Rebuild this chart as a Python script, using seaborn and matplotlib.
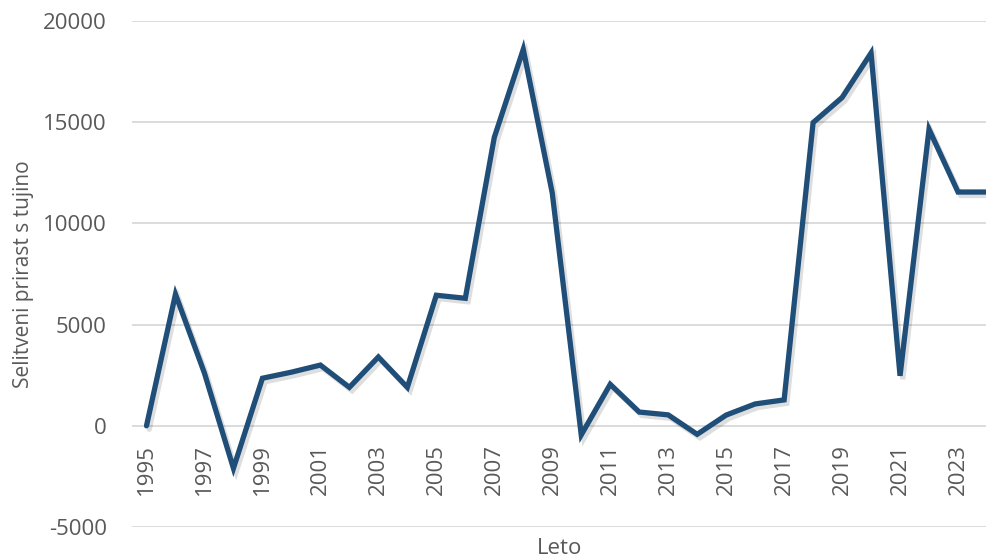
import matplotlib
matplotlib.use("Agg")
import matplotlib.pyplot as plt
import matplotlib.patheffects as pe
import pandas as pd
import seaborn as sns

# Selitveni prirast s tujino po letih
years = list(range(1995, 2025))
net_migration = [
    0, 6500, 2600, -2100, 2350, 2650, 3000, 1900, 3400, 1900,
    6450, 6300, 14250, 18600, 11500, -450, 2050, 680, 540, -420,
    530, 1080, 1280, 14980, 16220, 18420, 2470, 14650, 11550, 11550,
]
xticks = list(range(1995, 2024, 2))
yticks = [-5000, 0, 5000, 10000, 15000, 20000]

LINE = "#1F4E79"
TEXT = "#595959"
GRID = "#D9D9D9"

sns.set_theme(style="white")
plt.rcParams["font.family"] = ["Open Sans", "DejaVu Sans"]
plt.rcParams["axes.unicode_minus"] = False

df = pd.DataFrame({"Leto": years, "Prirast": net_migration})

fig = plt.figure(figsize=(9.87, 5.6), dpi=100)
ax = fig.add_axes([132 / 987, 1 - 527 / 560, 1 - 132 / 987, 506 / 560])

sns.lineplot(data=df, x="Leto", y="Prirast", ax=ax, color=LINE, linewidth=3.8,
             solid_joinstyle="miter", zorder=3)
ax.lines[0].set_path_effects([
    pe.SimpleLineShadow(offset=(2, -2.5), shadow_color="black", alpha=0.13),
    pe.Normal(),
])

ax.set_ylim(-5000, 20000)
ax.set_xlim(1994.5, 2024.0)
ax.set_yticks(yticks)
ax.set_xticks(xticks)
ax.set_xticklabels([str(y) for y in xticks])

ax.yaxis.grid(True, color=GRID, linewidth=1.3)
ax.set_axisbelow(True)
for s in ax.spines.values():
    s.set_visible(False)
ax.spines["bottom"].set_position(("data", 0))

ax.tick_params(axis="y", length=0, pad=18, labelsize=16, labelcolor=TEXT)
ax.tick_params(axis="x", length=0, pad=13, labelsize=16, labelcolor=TEXT,
               labelrotation=90)

ax.set_ylabel("Selitveni prirast s tujino", fontsize=15, color=TEXT)
ax.set_xlabel("Leto", fontsize=16, color=TEXT)
ax.xaxis.set_label_coords(0.5, -0.022)
ax.yaxis.set_label_coords(-0.115, 0.5)

fig.savefig("out.png", dpi=100)
